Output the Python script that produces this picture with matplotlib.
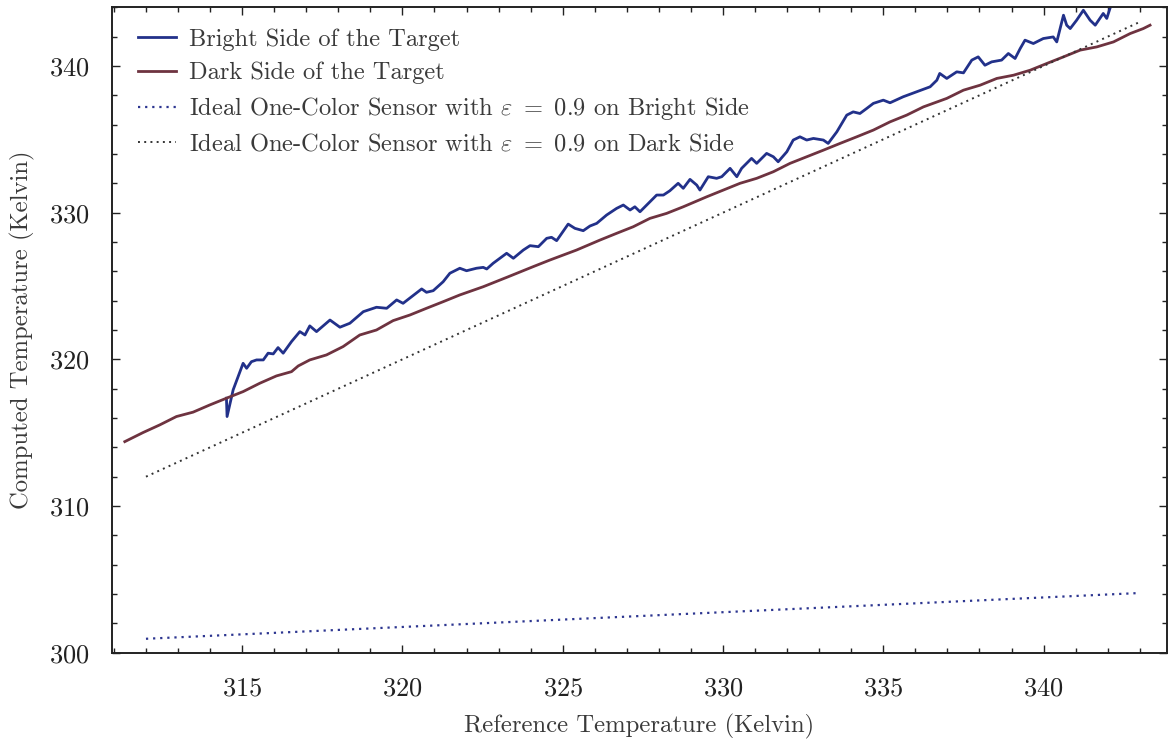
import numpy as np
import matplotlib
matplotlib.use("Agg")
import matplotlib.pyplot as plt
from matplotlib.ticker import MultipleLocator

# ------------------------------------------------------------------------------
# Datos: temperatura de referencia vs temperatura calculada (Kelvin)
# ------------------------------------------------------------------------------
t_ref_bright = [314.51, 314.53, 314.72, 315.03, 315.14, 315.29, 315.45, 315.66,
                315.81, 315.97, 316.12, 316.28, 316.54, 316.80, 316.96, 317.11,
                317.32, 317.74, 318.05, 318.36, 318.78, 319.19, 319.51, 319.82,
                320.02, 320.60, 320.75, 320.96, 321.27, 321.48, 321.79, 322.00,
                322.31, 322.52, 322.63, 322.83, 323.25, 323.46, 323.77, 323.98,
                324.24, 324.50, 324.65, 324.81, 325.17, 325.38, 325.64, 325.85,
                326.06, 326.37, 326.68, 326.89, 327.10, 327.25, 327.41, 327.93,
                328.14, 328.34, 328.60, 328.76, 328.97, 329.18, 329.28, 329.54,
                329.80, 329.96, 330.22, 330.43, 330.58, 330.89, 331.05, 331.36,
                331.57, 331.72, 331.99, 332.19, 332.40, 332.61, 332.82, 333.13,
                333.28, 333.55, 333.86, 334.06, 334.27, 334.48, 334.69, 335.00,
                335.21, 335.62, 336.04, 336.46, 336.67, 336.76, 336.98, 337.29,
                337.50, 337.76, 337.96, 338.17, 338.38, 338.69, 338.90, 339.11,
                339.27, 339.42, 339.68, 339.99, 340.30, 340.41, 340.62, 340.72,
                340.83, 341.03, 341.24, 341.45, 341.61, 341.86, 341.97, 342.07]
t_calc_bright = [317.35, 316.10, 317.92, 319.73, 319.39, 319.84, 319.96, 319.96,
                 320.42, 320.37, 320.80, 320.42, 321.21, 321.89, 321.66, 322.28,
                 321.89, 322.68, 322.19, 322.46, 323.25, 323.55, 323.48, 324.05,
                 323.82, 324.80, 324.57, 324.68, 325.29, 325.87, 326.21, 326.04,
                 326.21, 326.27, 326.16, 326.55, 327.23, 326.89, 327.45, 327.75,
                 327.68, 328.25, 328.32, 328.09, 329.22, 328.93, 328.77, 329.09,
                 329.27, 329.84, 330.29, 330.52, 330.18, 330.40, 330.06, 331.20,
                 331.20, 331.49, 332.00, 331.66, 332.27, 331.88, 331.54, 332.45,
                 332.34, 332.45, 333.02, 332.45, 333.02, 333.70, 333.36, 334.04,
                 333.81, 333.47, 334.15, 334.95, 335.17, 334.95, 335.06, 334.95,
                 334.72, 335.51, 336.65, 336.87, 336.76, 337.10, 337.45, 337.67,
                 337.49, 337.90, 338.24, 338.58, 339.03, 339.49, 339.15, 339.60,
                 339.53, 340.40, 340.62, 340.05, 340.28, 340.40, 340.85, 340.51,
                 341.19, 341.76, 341.53, 341.87, 341.98, 341.64, 343.46, 342.78,
                 342.55, 343.12, 343.80, 343.12, 342.78, 343.58, 343.24, 343.92]

t_ref_dark = [311.34, 311.91, 312.43, 312.95, 313.47, 313.99, 314.51, 315.03,
              315.55, 316.07, 316.54, 316.75, 317.11, 317.63, 318.15, 318.67,
              319.19, 319.71, 320.23, 320.75, 321.27, 321.79, 322.52, 323.30,
              324.08, 324.60, 325.43, 326.16, 326.68, 327.20, 327.72, 328.24,
              328.76, 329.49, 330.01, 330.53, 331.05, 331.57, 332.09, 332.61,
              333.13, 333.65, 334.17, 334.69, 335.21, 335.73, 336.25, 336.98,
              337.50, 338.02, 338.54, 339.06, 339.58, 340.10, 340.62, 341.14,
              341.66, 342.18, 342.70, 343.11, 343.32]
t_calc_dark = [314.39, 315.01, 315.53, 316.10, 316.40, 316.89, 317.35, 317.80,
               318.37, 318.87, 319.16, 319.55, 319.96, 320.30, 320.87, 321.66,
               322.00, 322.64, 323.02, 323.48, 323.93, 324.39, 324.95, 325.63,
               326.32, 326.77, 327.45, 328.13, 328.59, 329.04, 329.61, 329.95,
               330.40, 331.08, 331.54, 332.00, 332.34, 332.79, 333.36, 333.81,
               334.26, 334.72, 335.17, 335.63, 336.19, 336.65, 337.21, 337.79,
               338.35, 338.69, 339.15, 339.37, 339.71, 340.17, 340.62, 341.08,
               341.30, 341.64, 342.21, 342.55, 342.78]

# Sensor ideal de un color con emisividad 0.9
t_ref_ideal = [312.0, 343.0]
t_ideal_bright = [300.95, 304.07]
t_ideal_dark = [312.0, 343.0]

# ------------------------------------------------------------------------------
# Estilo tipo LaTeX (Computer Modern)
# ------------------------------------------------------------------------------
plt.rcParams['font.family'] = 'serif'
plt.rcParams['font.serif'] = ['cmr10']
plt.rcParams['mathtext.fontset'] = 'cm'
plt.rcParams['axes.formatter.use_mathtext'] = True
plt.rcParams['axes.unicode_minus'] = False

fig = plt.figure(figsize=(11.68, 7.44), dpi=100)
ax = fig.add_axes([0.0956, 0.1227, 0.9033, 0.8675])

ax.plot(t_ref_bright, t_calc_bright, color='#22318a', lw=2.0,
        label='Bright Side of the Target')
ax.plot(t_ref_dark, t_calc_dark, color='#6e3340', lw=2.0,
        label='Dark Side of the Target')
ax.plot(t_ref_ideal, t_ideal_bright, color='#2c3590', lw=1.6,
        linestyle=(0, (1, 2.2)),
        label=r'Ideal One-Color Sensor with $\varepsilon\ =\ 0.9$ on Bright Side')
ax.plot(t_ref_ideal, t_ideal_dark, color='#333333', lw=1.4,
        linestyle=(0, (1, 2.2)),
        label=r'Ideal One-Color Sensor with $\varepsilon\ =\ 0.9$ on Dark Side')

ax.set_xlim(310.93, 343.84)
ax.set_ylim(300, 344)
ax.xaxis.set_major_locator(MultipleLocator(5))
ax.xaxis.set_minor_locator(MultipleLocator(1))
ax.yaxis.set_major_locator(MultipleLocator(10))
ax.yaxis.set_minor_locator(MultipleLocator(2))
ax.tick_params(which='both', direction='in', top=True, right=True,
               width=1.0, color='#222222')
ax.tick_params(which='major', length=6, labelsize=19, labelcolor='#222222')
ax.tick_params(axis='x', which='major', pad=17)
ax.tick_params(axis='y', which='major', pad=16)
ax.tick_params(which='minor', length=3.5)
for s in ax.spines.values():
    s.set_linewidth(1.4)
    s.set_color('#222222')

ax.set_xlabel('Reference Temperature (Kelvin)', fontsize=17.8, color='#3a3a3a',
              labelpad=10)
ax.set_ylabel('Computed Temperature (Kelvin)', fontsize=17.8, color='#3a3a3a',
              labelpad=10)

ax.legend(loc='upper left', frameon=False, fontsize=17.6, handlelength=1.55,
          handletextpad=0.55, labelspacing=0.45, borderaxespad=0.45,
          borderpad=0.4, labelcolor='#3a3a3a',
          bbox_to_anchor=(0.005, 1.0))

plt.savefig('out.png', dpi=100)
